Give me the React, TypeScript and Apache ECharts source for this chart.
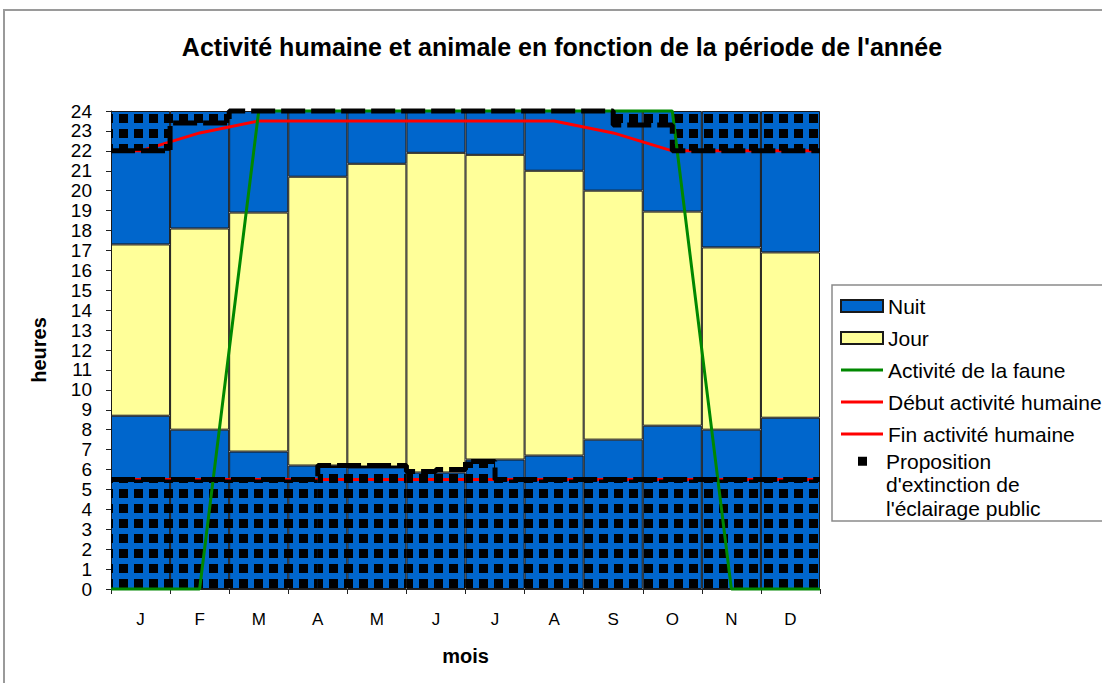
import React, { useEffect, useRef } from "react";
import * as echarts from "echarts";

// ---------- data ----------
const months = ["J", "F", "M", "A", "M", "J", "J", "A", "S", "O", "N", "D"];
// lever et coucher du soleil (heures)
const sunrise = [8.7, 8.0, 6.9, 6.2, 6.1, 5.85, 6.5, 6.7, 7.5, 8.2, 8.0, 8.6];
const sunset = [17.3, 18.1, 18.9, 20.7, 21.35, 21.9, 21.8, 21.0, 20.0, 18.95, 17.15, 16.9];
const yMin = 0;
const yMax = 24;
const yInterval = 1;

// positions on a month scale: 0 = left edge, i + 0.5 = month centre, 12 = right edge
const linePos = [0, 0.5, 1.5, 2.5, 3.5, 4.5, 5.5, 6.5, 7.5, 8.5, 9.5, 10.5, 11.5, 12];
const faune = [0, 0, 0, 24, 24, 24, 24, 24, 24, 24, 24, 0, 0, 0];
const debutHumain = [5.5, 5.5, 5.5, 5.5, 5.5, 5.5, 5.5, 5.5, 5.5, 5.5, 5.5, 5.5, 5.5, 5.5];
const finHumain = [22, 22, 22.9, 23.5, 23.5, 23.5, 23.5, 23.5, 23.5, 22.9, 22, 22, 22, 22];

// proposition d'extinction: step boundaries (month scale) and levels
const extMorningX = [0, 3.5, 5.0, 5.5, 6.0, 6.5, 12];
const extMorning = [5.5, 6.2, 5.9, 6.0, 6.4, 5.5];
const extEveningX = [0, 1.0, 2.0, 8.5, 9.5, 12];
const extEvening = [22, 23.4, 24, 23.3, 22];

const PROP = "Proposition d'extinction de l'éclairage public";
const FONT = "'Liberation Sans', Arial, sans-serif";
const BLUE = "#0066CC";
const YELLOW = "#FFFF99";
const LINE_ICON = "path://M0,0h14v1h-14z";

function stepPoints(xs: number[], vs: number[]) {
  return xs.map((x, i) => [x, vs[Math.min(i, vs.length - 1)]]);
}

function regions() {
  const out: number[][] = [];
  for (let i = 0; i < extMorning.length; i++) {
    out.push([extMorningX[i], extMorningX[i + 1], 0, extMorning[i]]);
  }
  for (let i = 0; i < extEvening.length; i++) {
    if (extEvening[i] < yMax) out.push([extEveningX[i], extEveningX[i + 1], extEvening[i], yMax]);
  }
  return out;
}

export default function App() {
  const ref = useRef<HTMLDivElement>(null);
  useEffect(() => {
    if (!ref.current) return;
    const chart = echarts.init(ref.current, undefined, { renderer: "svg" });
    const nightBefore = sunrise;
    const day = sunset.map((s, i) => +(s - sunrise[i]).toFixed(3));
    const nightAfter = sunset.map((s) => +(yMax - s).toFixed(3));
    const barStyle = (c: string) => ({ color: c, borderColor: "#1a1a1a", borderWidth: 1 });
    const lineData = (vals: number[]) => linePos.map((x, i) => [x, vals[i]]);

    const option: any = {
      animation: false,
      backgroundColor: "#fff",
      title: {
        text: "Activité humaine et animale en fonction de la période de l'année",
        left: 562,
        top: 34,
        textAlign: "center",
        padding: 0,
        textStyle: { fontFamily: FONT, fontSize: 25, fontWeight: "bold", color: "#000" },
      },
      graphic: [
        {
          type: "rect",
          shape: { x: 4, y: 10, width: 1400, height: 1000 },
          style: { fill: "none", stroke: "#9a9a9a", lineWidth: 2 },
          silent: true,
        },
        {
          type: "rect",
          shape: { x: 832, y: 285, width: 400, height: 236 },
          style: { fill: "#fff", stroke: "#8a8a8a", lineWidth: 1.5 },
          silent: true,
        },
      ],
      legend: [
        {
          data: [
            { name: "Nuit", icon: "rect" },
            { name: "Jour", icon: "rect" },
            { name: "Activité de la faune", icon: LINE_ICON },
            { name: "Début activité humaine", icon: LINE_ICON },
            { name: "Fin activité humaine", icon: LINE_ICON },
          ],
          orient: "vertical",
          left: 840,
          top: 295,
          padding: 0,
          itemWidth: 42,
          itemHeight: 12,
          itemGap: 10,
          selectedMode: false,
          textStyle: { fontFamily: FONT, fontSize: 21, lineHeight: 22, color: "#000" },
        },
        {
          data: [{ name: PROP, icon: "rect" }],
          orient: "vertical",
          left: 858,
          top: 402.5,
          padding: 0,
          itemWidth: 9,
          itemHeight: 9,
          selectedMode: false,
          formatter: () => "\n\nProposition\nd'extinction de\nl'éclairage public",
          textStyle: {
            fontFamily: FONT,
            fontSize: 21,
            lineHeight: 23.5,
            color: "#000",
            padding: [0, 0, 0, 14],
          },
        },
      ],
      grid: { left: 111, right: 282, top: 111, bottom: 94, containLabel: false },
      xAxis: [
        {
          type: "category",
          data: months,
          name: "mois",
          nameLocation: "middle",
          nameGap: 57,
          nameTextStyle: { fontFamily: FONT, fontSize: 20, fontWeight: "bold", color: "#000" },
          axisLine: { show: true, lineStyle: { color: "#222", width: 1 } },
          axisTick: { show: true, length: 5, lineStyle: { color: "#222" } },
          axisLabel: { fontFamily: FONT, fontSize: 17, color: "#000", margin: 22 },
          splitLine: { show: false },
        },
        { type: "value", min: 0, max: 12, show: false, gridIndex: 0 },
      ],
      yAxis: {
        type: "value",
        min: yMin,
        max: yMax,
        interval: yInterval,
        name: "heures",
        nameLocation: "middle",
        nameGap: 62,
        nameTextStyle: { fontFamily: FONT, fontSize: 20, fontWeight: "bold", color: "#000" },
        axisLine: { show: true, lineStyle: { color: "#222", width: 1 } },
        axisTick: { show: true, length: 5, lineStyle: { color: "#222" } },
        axisLabel: { fontFamily: FONT, fontSize: 19, color: "#000", margin: 19 },
        splitLine: { show: false },
      },
      series: [
        { name: "Nuit", type: "bar", stack: "h", data: nightBefore, barCategoryGap: "0%", itemStyle: barStyle(BLUE), z: 2 },
        { name: "Jour", type: "bar", stack: "h", data: day, barCategoryGap: "0%", itemStyle: barStyle(YELLOW), z: 2 },
        { name: "Nuit", type: "bar", stack: "h", data: nightAfter, barCategoryGap: "0%", itemStyle: barStyle(BLUE), z: 2 },
        {
          name: PROP,
          type: "line",
          xAxisIndex: 1,
          step: "end",
          data: stepPoints(extMorningX, extMorning),
          symbol: "rect",
          showSymbol: false,
          clip: false,
          itemStyle: { color: "#000" },
          lineStyle: { color: "#000", width: 5, type: [24, 6] },
          z: 6,
        },
        {
          name: PROP,
          type: "line",
          xAxisIndex: 1,
          step: "end",
          data: stepPoints(extEveningX, extEvening),
          symbol: "rect",
          showSymbol: false,
          clip: false,
          itemStyle: { color: "#000" },
          lineStyle: { color: "#000", width: 5, type: [24, 6] },
          z: 6,
        },
        {
          name: "motif extinction",
          type: "custom",
          xAxisIndex: 1,
          yAxisIndex: 0,
          coordinateSystem: "cartesian2d",
          encode: { x: [0, 1], y: [2, 3] },
          data: regions(),
          silent: true,
          z: 4,
          renderItem: (params: any, api: any) => {
            const a = api.coord([api.value(0), api.value(3)]);
            const b = api.coord([api.value(1), api.value(2)]);
            const o = api.coord([0, 0]);
            const L = a[0], T = a[1], R = b[0], B = b[1];
            const P = 15, S = 9, offX = 8, offY = 1;
            const children: any[] = [];
            const k0 = Math.floor((L - o[0] - offX - S) / P);
            for (let k = k0; ; k++) {
              const sx = o[0] + offX + k * P;
              if (sx >= R) break;
              const cl = Math.max(sx, L), cr = Math.min(sx + S, R);
              if (cr <= cl) continue;
              const j0 = Math.max(0, Math.floor((o[1] - B - offY - S) / P));
              for (let j = j0; ; j++) {
                const bot = o[1] - offY - j * P;
                const top = bot - S;
                if (bot <= T) break;
                const ct = Math.max(top, T), cb = Math.min(bot, B);
                if (cb <= ct) continue;
                children.push({
                  type: "rect",
                  shape: { x: cl, y: ct, width: cr - cl, height: cb - ct },
                  style: { fill: "#000" },
                });
              }
            }
            return { type: "group", children };
          },
        },
        {
          name: "Activité de la faune",
          type: "line",
          xAxisIndex: 1,
          data: lineData(faune),
          symbol: "none",
          clip: false,
          lineStyle: { color: "#008800", width: 3 },
          itemStyle: { color: "#008800" },
          z: 5,
        },
        {
          name: "Début activité humaine",
          type: "line",
          xAxisIndex: 1,
          data: lineData(debutHumain),
          symbol: "none",
          lineStyle: { color: "#FF0000", width: 3 },
          itemStyle: { color: "#FF0000" },
          z: 3,
        },
        {
          name: "Fin activité humaine",
          type: "line",
          xAxisIndex: 1,
          data: lineData(finHumain),
          symbol: "none",
          lineStyle: { color: "#FF0000", width: 3 },
          itemStyle: { color: "#FF0000" },
          z: 3,
        },
      ],
    };
    chart.setOption(option);
    return () => chart.dispose();
  }, []);
  return (
    <div
      ref={ref}
      style={{ position: "fixed", left: 0, top: 0, width: 1102, height: 683, background: "#fff" }}
    />
  );
}
